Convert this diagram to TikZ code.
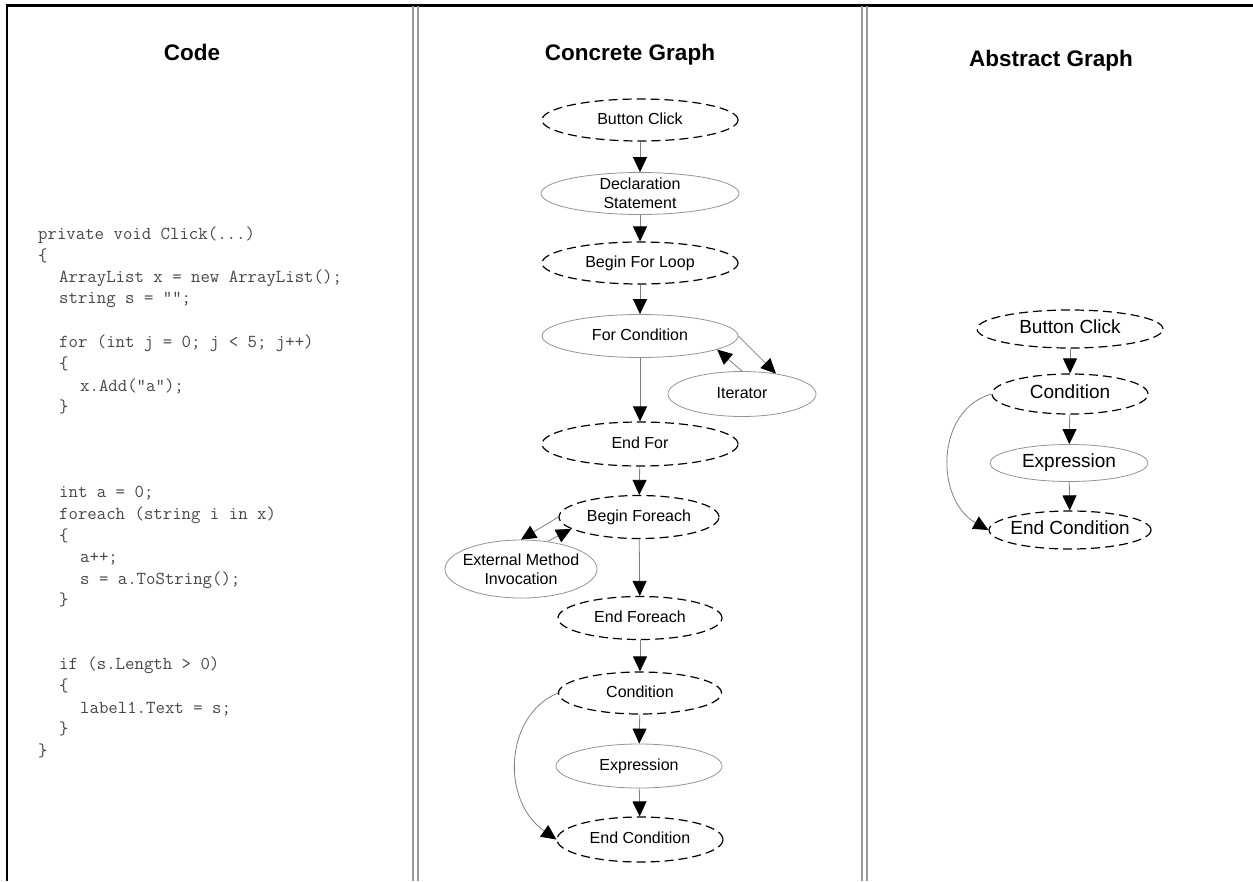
\documentclass[tikz,border=0pt]{standalone}
\usepackage{fontspec}
\setmainfont{Liberation Sans}
\usetikzlibrary{shapes.geometric,arrows.meta}
\begin{document}
\begin{tikzpicture}[x=1pt,y=-1pt,
  base/.style={ellipse, inner sep=0pt},
  dell/.style={base, draw=black, line width=1.2pt, dash pattern=on 9pt off 5pt},
  sell/.style={base, draw=black!42, line width=0.8pt},
  cg/.style={font=\fontsize{16}{18.5}\selectfont, inner sep=0pt, text height=11.5pt, text depth=3.4pt},
  cgm/.style={font=\fontsize{16}{19}\selectfont, inner sep=0pt, align=center},
  ag/.style={font=\fontsize{19}{22}\selectfont, inner sep=0pt, text height=13.7pt, text depth=4pt},
  arr/.style={draw=black!50, line width=0.8pt, -{Triangle[length=15pt,width=14pt,color=black]}},
  ttl/.style={font=\fontsize{22.5}{27}\selectfont\bfseries, inner sep=0pt, anchor=base},
  code/.style={font=\fontsize{18.3}{21}\selectfont\ttfamily, anchor=base west, inner sep=0pt, text=black!72},
  frame/.style={line width=2.5pt, black},
  divider/.style={line width=1.2pt, black!40}
]
\useasboundingbox (0,0) rectangle (1253,881);
\fill[white] (0,0) rectangle (1253,881);

% frame and column dividers
\coordinate (tl) at (7,5.5);
\coordinate (tr) at (1253,5.5);
\coordinate (bl) at (7,881);
\draw[frame] (tr) -- (tl) -- (bl);
\foreach \xx/\nm in {413/d1,418/d2,862/d3,867/d4}{
  \coordinate (\nm t) at (\xx,6);
  \coordinate (\nm b) at (\xx,881);
  \draw[divider] (\nm t) -- (\nm b);
}

% titles
\node[ttl] (tcode) at (192,60) {Code};
\node[ttl] (tconc) at (630,60) {Concrete Graph};
\node[ttl] (tabs) at (1051,66) {Abstract Graph};

% code
\node[code] (c1) at (38,239) {private void Click(...)};
\node[code] (c2) at (38,261) {\{};
\node[code] (c3) at (59,282) {ArrayList x = new ArrayList();};
\node[code] (c4) at (59,303) {string s = "";};
\node[code] (c5) at (59,347) {for (int j = 0; j < 5; j++)};
\node[code] (c6) at (59,369) {\{};
\node[code] (c7) at (80,391) {x.Add("a");};
\node[code] (c8) at (59,412) {\}};
\node[code] (c9) at (59,497) {int a = 0;};
\node[code] (c10) at (59,519) {foreach (string i in x)};
\node[code] (c11) at (59,541) {\{};
\node[code] (c12) at (80,562) {a++;};
\node[code] (c13) at (80,584) {s = a.ToString();};
\node[code] (c14) at (59,605) {\}};
\node[code] (c15) at (59,669) {if (s.Length > 0)};
\node[code] (c16) at (59,691) {\{};
\node[code] (c17) at (80,713) {label1.Text = s;};
\node[code] (c18) at (59,734) {\}};
\node[code] (c19) at (38,756) {\}};

% concrete graph
\node[dell, minimum width=196pt, minimum height=42pt, label={[cg]center:Button Click}] (bc) at (640,120) {};
\node[sell, minimum width=198pt, minimum height=42pt, label={[cgm]center:Declaration\\Statement}] (ds) at (640,193.5) {};
\node[dell, minimum width=196pt, minimum height=42pt, label={[cg]center:Begin For Loop}] (bfl) at (640,263) {};
\node[sell, minimum width=196pt, minimum height=43pt, label={[cg]center:For Condition}] (fc) at (640,336) {};
\node[sell, minimum width=148pt, minimum height=45pt, label={[cg]center:Iterator}] (it) at (742,394) {};
\node[dell, minimum width=196pt, minimum height=44pt, label={[cg]center:End For}] (ef) at (640,444) {};
\node[dell, minimum width=160pt, minimum height=43pt, label={[cg]center:Begin Foreach}] (bf) at (639,517) {};
\node[sell, minimum width=152pt, minimum height=58pt, label={[cgm]center:External Method\\Invocation}] (emi) at (521,569) {};
\node[dell, minimum width=164pt, minimum height=43pt, label={[cg]center:End Foreach}] (efe) at (640,618) {};
\node[dell, minimum width=163pt, minimum height=42pt, label={[cg]center:Condition}] (cond) at (640,693) {};
\node[sell, minimum width=166pt, minimum height=44pt, label={[cg]center:Expression}] (expr) at (639,766) {};
\node[dell, minimum width=166pt, minimum height=45pt, label={[cg]center:End Condition}] (econd) at (640,839.5) {};

\draw[arr] (bc) -- (ds);
\draw[arr] (ds) -- (bfl);
\draw[arr] (bfl) -- (fc);
\draw[arr] (fc.east) -- (it.31);
\draw[arr] (it.north) -- (fc.-10);
\draw[arr] (fc) -- (ef);
\draw[arr] (ef) -- (bf);
\draw[arr] (bf.west) -- (emi.north);
\draw[arr] (emi.46) -- (bf.190);
\draw[arr] (bf) -- (efe);
\draw[arr] (efe) -- (cond);
\draw[arr] (cond) -- (expr);
\draw[arr] (expr) -- (econd);
\draw[arr] (cond.west) .. controls (505,715) and (500,800) .. (econd.west);

% abstract graph
\node[dell, minimum width=186pt, minimum height=38pt, label={[ag]center:Button Click}] (abc) at (1070,329) {};
\node[dell, minimum width=156pt, minimum height=40pt, label={[ag]center:Condition}] (acond) at (1070,394) {};
\node[sell, minimum width=158pt, minimum height=37pt, label={[ag]center:Expression}] (aexpr) at (1069,463) {};
\node[dell, minimum width=162pt, minimum height=38pt, label={[ag]center:End Condition}] (aecond) at (1070,530) {};

\draw[arr] (abc) -- (acond);
\draw[arr] (acond) -- (aexpr);
\draw[arr] (aexpr) -- (aecond);
\draw[arr] (acond.west) .. controls (935,410) and (935,500) .. (aecond.west);
\end{tikzpicture}
\end{document}
